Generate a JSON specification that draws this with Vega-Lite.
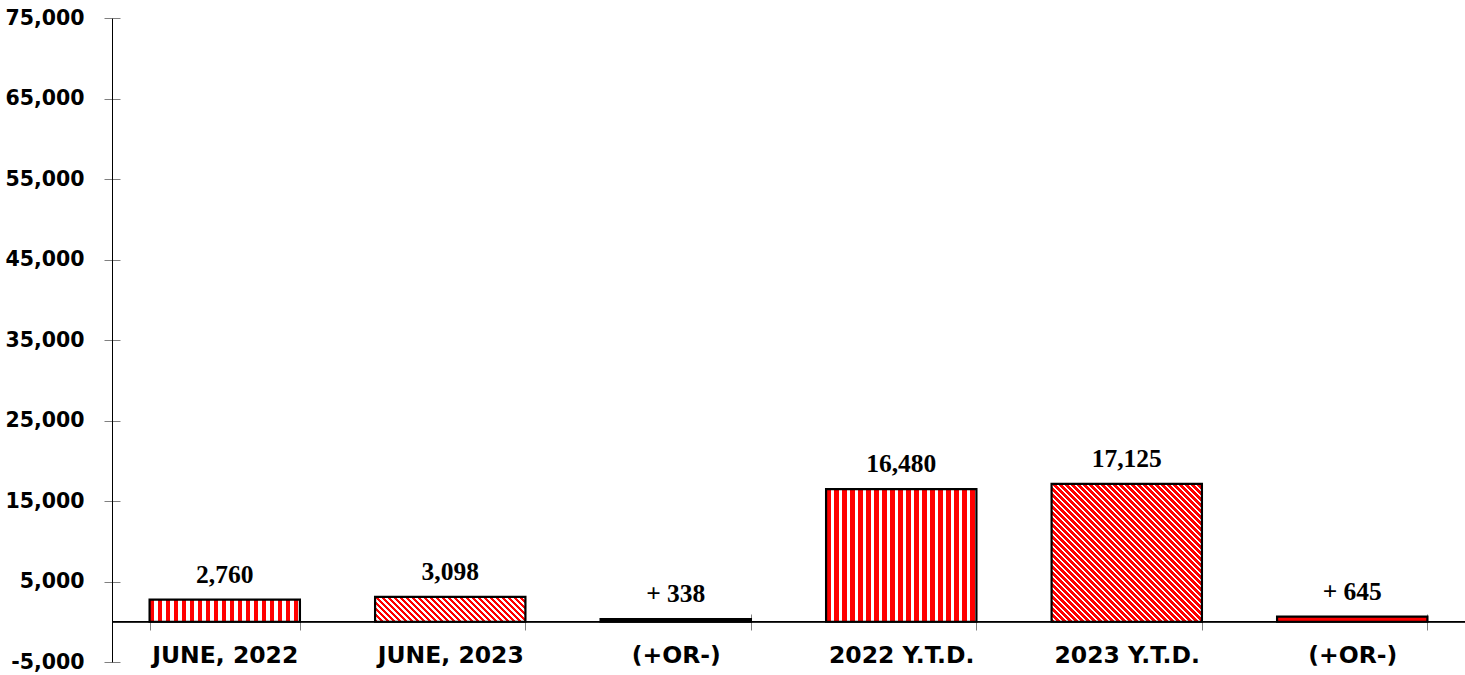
{
  "$schema": "https://vega.github.io/schema/vega-lite/v6.json",
  "width": 1353,
  "height": 644,
  "autosize": {"type": "none"},
  "padding": {"left": 112, "top": 18, "right": 0, "bottom": 13},
  "background": "white",
  "config": {"view": {"stroke": null}},
  "data": {
    "values": [
      {"cat": "JUNE, 2022", "value": 2760, "label": "2,760"},
      {"cat": "JUNE, 2023", "value": 3098, "label": "3,098"},
      {"cat": "(+OR-) MONTH", "value": 338, "label": "+ 338"},
      {"cat": "2022 Y.T.D.", "value": 16480, "label": "16,480"},
      {"cat": "2023 Y.T.D.", "value": 17125, "label": "17,125"},
      {"cat": "(+OR-) Y.T.D.", "value": 645, "label": "+ 645"}
    ]
  },
  "encoding": {
    "x": {
      "field": "cat", "type": "nominal", "sort": null,
      "scale": {"paddingInner": 0.3333, "paddingOuter": 0.16667},
      "axis": {
        "title": null, "domain": false, "offset": -48, "tickSize": 16, "tickBand": "extent",
        "tickColor": "#808080", "labelAngle": 0, "labelPadding": 13,
        "labelFont": "DejaVu Sans", "labelFontWeight": "bold", "labelFontSize": 23.5, "labelColor": "#000000", "labelLimit": 400,
        "labelExpr": "indexof(datum.label, '(+OR-)') === 0 ? '(+OR-)' : datum.label"
      }
    }
  },
  "layer": [
    {
      "mark": {"type": "rule", "color": "#000000", "strokeWidth": 1},
      "encoding": {"y": {"datum": 0, "type": "quantitative"}, "x": null}
    },
    {
      "mark": {"type": "bar", "stroke": "#000000", "strokeWidth": 2.2},
      "encoding": {
        "y": {
          "field": "value", "type": "quantitative",
          "scale": {"domain": [-5000, 75000], "nice": false, "zero": false},
          "axis": {
            "title": null, "values": [-5000, 5000, 15000, 25000, 35000, 45000, 55000, 65000, 75000],
            "domain": true, "domainColor": "#000000", "tickSize": 8, "tickColor": "#808080",
            "grid": true, "gridDash": [8, 3000], "gridColor": "#808080", "gridOpacity": 1,
            "labelPadding": 20, "labelFont": "DejaVu Sans", "labelFontWeight": "bold", "labelFontSize": 20.5, "labelColor": "#000000",
            "labelExpr": "datum.value < 0 ? '-' + format(-datum.value, ',') : format(datum.value, ',')"
          }
        },
        "fill": {
          "condition": [
            {"test": "datum.cat === 'JUNE, 2022' || datum.cat === '2022 Y.T.D.'", "value": {"gradient": "linear", "x1": 0, "y1": 0, "x2": 1, "y2": 0, "stops": [
              {"offset": 0, "color": "#f00"}, {"offset": 0.02993, "color": "#f00"}, {"offset": 0.02993, "color": "#fff"}, {"offset": 0.05322, "color": "#fff"},
              {"offset": 0.05322, "color": "#f00"}, {"offset": 0.08315, "color": "#f00"}, {"offset": 0.08315, "color": "#fff"}, {"offset": 0.10643, "color": "#fff"},
              {"offset": 0.10643, "color": "#f00"}, {"offset": 0.13637, "color": "#f00"}, {"offset": 0.13637, "color": "#fff"}, {"offset": 0.15965, "color": "#fff"},
              {"offset": 0.15965, "color": "#f00"}, {"offset": 0.18958, "color": "#f00"}, {"offset": 0.18958, "color": "#fff"}, {"offset": 0.21286, "color": "#fff"},
              {"offset": 0.21286, "color": "#f00"}, {"offset": 0.24280, "color": "#f00"}, {"offset": 0.24280, "color": "#fff"}, {"offset": 0.26608, "color": "#fff"},
              {"offset": 0.26608, "color": "#f00"}, {"offset": 0.29601, "color": "#f00"}, {"offset": 0.29601, "color": "#fff"}, {"offset": 0.31930, "color": "#fff"},
              {"offset": 0.31930, "color": "#f00"}, {"offset": 0.34923, "color": "#f00"}, {"offset": 0.34923, "color": "#fff"}, {"offset": 0.37251, "color": "#fff"},
              {"offset": 0.37251, "color": "#f00"}, {"offset": 0.40245, "color": "#f00"}, {"offset": 0.40245, "color": "#fff"}, {"offset": 0.42573, "color": "#fff"},
              {"offset": 0.42573, "color": "#f00"}, {"offset": 0.45566, "color": "#f00"}, {"offset": 0.45566, "color": "#fff"}, {"offset": 0.47894, "color": "#fff"},
              {"offset": 0.47894, "color": "#f00"}, {"offset": 0.50888, "color": "#f00"}, {"offset": 0.50888, "color": "#fff"}, {"offset": 0.53216, "color": "#fff"},
              {"offset": 0.53216, "color": "#f00"}, {"offset": 0.56209, "color": "#f00"}, {"offset": 0.56209, "color": "#fff"}, {"offset": 0.58538, "color": "#fff"},
              {"offset": 0.58538, "color": "#f00"}, {"offset": 0.61531, "color": "#f00"}, {"offset": 0.61531, "color": "#fff"}, {"offset": 0.63859, "color": "#fff"},
              {"offset": 0.63859, "color": "#f00"}, {"offset": 0.66853, "color": "#f00"}, {"offset": 0.66853, "color": "#fff"}, {"offset": 0.69181, "color": "#fff"},
              {"offset": 0.69181, "color": "#f00"}, {"offset": 0.72174, "color": "#f00"}, {"offset": 0.72174, "color": "#fff"}, {"offset": 0.74502, "color": "#fff"},
              {"offset": 0.74502, "color": "#f00"}, {"offset": 0.77496, "color": "#f00"}, {"offset": 0.77496, "color": "#fff"}, {"offset": 0.79824, "color": "#fff"},
              {"offset": 0.79824, "color": "#f00"}, {"offset": 0.82817, "color": "#f00"}, {"offset": 0.82817, "color": "#fff"}, {"offset": 0.85146, "color": "#fff"},
              {"offset": 0.85146, "color": "#f00"}, {"offset": 0.88139, "color": "#f00"}, {"offset": 0.88139, "color": "#fff"}, {"offset": 0.90467, "color": "#fff"},
              {"offset": 0.90467, "color": "#f00"}, {"offset": 0.93461, "color": "#f00"}, {"offset": 0.93461, "color": "#fff"}, {"offset": 0.95789, "color": "#fff"},
              {"offset": 0.95789, "color": "#f00"}, {"offset": 0.98782, "color": "#f00"}, {"offset": 0.98782, "color": "#fff"}, {"offset": 1, "color": "#fff"}
            ]}},
            {"test": "datum.cat === 'JUNE, 2023'", "value": {"gradient": "linear", "x1": 0, "y1": 1, "x2": 1.13467, "y2": 0.81176, "stops": [
              {"offset": 0, "color": "#f00"}, {"offset": 0.02054, "color": "#f00"}, {"offset": 0.02054, "color": "#fff"}, {"offset": 0.03423, "color": "#fff"},
              {"offset": 0.03423, "color": "#f00"}, {"offset": 0.05477, "color": "#f00"}, {"offset": 0.05477, "color": "#fff"}, {"offset": 0.06847, "color": "#fff"},
              {"offset": 0.06847, "color": "#f00"}, {"offset": 0.08901, "color": "#f00"}, {"offset": 0.08901, "color": "#fff"}, {"offset": 0.10270, "color": "#fff"},
              {"offset": 0.10270, "color": "#f00"}, {"offset": 0.12324, "color": "#f00"}, {"offset": 0.12324, "color": "#fff"}, {"offset": 0.13693, "color": "#fff"},
              {"offset": 0.13693, "color": "#f00"}, {"offset": 0.15747, "color": "#f00"}, {"offset": 0.15747, "color": "#fff"}, {"offset": 0.17116, "color": "#fff"},
              {"offset": 0.17116, "color": "#f00"}, {"offset": 0.19170, "color": "#f00"}, {"offset": 0.19170, "color": "#fff"}, {"offset": 0.20540, "color": "#fff"},
              {"offset": 0.20540, "color": "#f00"}, {"offset": 0.22594, "color": "#f00"}, {"offset": 0.22594, "color": "#fff"}, {"offset": 0.23963, "color": "#fff"},
              {"offset": 0.23963, "color": "#f00"}, {"offset": 0.26017, "color": "#f00"}, {"offset": 0.26017, "color": "#fff"}, {"offset": 0.27386, "color": "#fff"},
              {"offset": 0.27386, "color": "#f00"}, {"offset": 0.29440, "color": "#f00"}, {"offset": 0.29440, "color": "#fff"}, {"offset": 0.30810, "color": "#fff"},
              {"offset": 0.30810, "color": "#f00"}, {"offset": 0.32864, "color": "#f00"}, {"offset": 0.32864, "color": "#fff"}, {"offset": 0.34233, "color": "#fff"},
              {"offset": 0.34233, "color": "#f00"}, {"offset": 0.36287, "color": "#f00"}, {"offset": 0.36287, "color": "#fff"}, {"offset": 0.37656, "color": "#fff"},
              {"offset": 0.37656, "color": "#f00"}, {"offset": 0.39710, "color": "#f00"}, {"offset": 0.39710, "color": "#fff"}, {"offset": 0.41079, "color": "#fff"},
              {"offset": 0.41079, "color": "#f00"}, {"offset": 0.43133, "color": "#f00"}, {"offset": 0.43133, "color": "#fff"}, {"offset": 0.44503, "color": "#fff"},
              {"offset": 0.44503, "color": "#f00"}, {"offset": 0.46557, "color": "#f00"}, {"offset": 0.46557, "color": "#fff"}, {"offset": 0.47926, "color": "#fff"},
              {"offset": 0.47926, "color": "#f00"}, {"offset": 0.49980, "color": "#f00"}, {"offset": 0.49980, "color": "#fff"}, {"offset": 0.51349, "color": "#fff"},
              {"offset": 0.51349, "color": "#f00"}, {"offset": 0.53403, "color": "#f00"}, {"offset": 0.53403, "color": "#fff"}, {"offset": 0.54773, "color": "#fff"},
              {"offset": 0.54773, "color": "#f00"}, {"offset": 0.56827, "color": "#f00"}, {"offset": 0.56827, "color": "#fff"}, {"offset": 0.58196, "color": "#fff"},
              {"offset": 0.58196, "color": "#f00"}, {"offset": 0.60250, "color": "#f00"}, {"offset": 0.60250, "color": "#fff"}, {"offset": 0.61619, "color": "#fff"},
              {"offset": 0.61619, "color": "#f00"}, {"offset": 0.63673, "color": "#f00"}, {"offset": 0.63673, "color": "#fff"}, {"offset": 0.65043, "color": "#fff"},
              {"offset": 0.65043, "color": "#f00"}, {"offset": 0.67097, "color": "#f00"}, {"offset": 0.67097, "color": "#fff"}, {"offset": 0.68466, "color": "#fff"},
              {"offset": 0.68466, "color": "#f00"}, {"offset": 0.70520, "color": "#f00"}, {"offset": 0.70520, "color": "#fff"}, {"offset": 0.71889, "color": "#fff"},
              {"offset": 0.71889, "color": "#f00"}, {"offset": 0.73943, "color": "#f00"}, {"offset": 0.73943, "color": "#fff"}, {"offset": 0.75312, "color": "#fff"},
              {"offset": 0.75312, "color": "#f00"}, {"offset": 0.77366, "color": "#f00"}, {"offset": 0.77366, "color": "#fff"}, {"offset": 0.78736, "color": "#fff"},
              {"offset": 0.78736, "color": "#f00"}, {"offset": 0.80790, "color": "#f00"}, {"offset": 0.80790, "color": "#fff"}, {"offset": 0.82159, "color": "#fff"},
              {"offset": 0.82159, "color": "#f00"}, {"offset": 0.84213, "color": "#f00"}, {"offset": 0.84213, "color": "#fff"}, {"offset": 0.85582, "color": "#fff"},
              {"offset": 0.85582, "color": "#f00"}, {"offset": 0.87636, "color": "#f00"}, {"offset": 0.87636, "color": "#fff"}, {"offset": 0.89006, "color": "#fff"},
              {"offset": 0.89006, "color": "#f00"}, {"offset": 0.91060, "color": "#f00"}, {"offset": 0.91060, "color": "#fff"}, {"offset": 0.92429, "color": "#fff"},
              {"offset": 0.92429, "color": "#f00"}, {"offset": 0.94483, "color": "#f00"}, {"offset": 0.94483, "color": "#fff"}, {"offset": 0.95852, "color": "#fff"},
              {"offset": 0.95852, "color": "#f00"}, {"offset": 0.97906, "color": "#f00"}, {"offset": 0.97906, "color": "#fff"}, {"offset": 0.99275, "color": "#fff"},
              {"offset": 0.99275, "color": "#f00"}, {"offset": 1, "color": "#f00"}
            ]}},
            {"test": "datum.cat === '2023 Y.T.D.'", "value": {"gradient": "linear", "x1": 0, "y1": 1, "x2": 1.04133, "y2": 0.04507, "stops": [
              {"offset": 0, "color": "#f00"}, {"offset": 0.01249, "color": "#f00"}, {"offset": 0.01249, "color": "#fff"}, {"offset": 0.02082, "color": "#fff"},
              {"offset": 0.02082, "color": "#f00"}, {"offset": 0.03331, "color": "#f00"}, {"offset": 0.03331, "color": "#fff"}, {"offset": 0.04164, "color": "#fff"},
              {"offset": 0.04164, "color": "#f00"}, {"offset": 0.05413, "color": "#f00"}, {"offset": 0.05413, "color": "#fff"}, {"offset": 0.06246, "color": "#fff"},
              {"offset": 0.06246, "color": "#f00"}, {"offset": 0.07495, "color": "#f00"}, {"offset": 0.07495, "color": "#fff"}, {"offset": 0.08328, "color": "#fff"},
              {"offset": 0.08328, "color": "#f00"}, {"offset": 0.09577, "color": "#f00"}, {"offset": 0.09577, "color": "#fff"}, {"offset": 0.10410, "color": "#fff"},
              {"offset": 0.10410, "color": "#f00"}, {"offset": 0.11659, "color": "#f00"}, {"offset": 0.11659, "color": "#fff"}, {"offset": 0.12492, "color": "#fff"},
              {"offset": 0.12492, "color": "#f00"}, {"offset": 0.13741, "color": "#f00"}, {"offset": 0.13741, "color": "#fff"}, {"offset": 0.14574, "color": "#fff"},
              {"offset": 0.14574, "color": "#f00"}, {"offset": 0.15823, "color": "#f00"}, {"offset": 0.15823, "color": "#fff"}, {"offset": 0.16656, "color": "#fff"},
              {"offset": 0.16656, "color": "#f00"}, {"offset": 0.17905, "color": "#f00"}, {"offset": 0.17905, "color": "#fff"}, {"offset": 0.18738, "color": "#fff"},
              {"offset": 0.18738, "color": "#f00"}, {"offset": 0.19987, "color": "#f00"}, {"offset": 0.19987, "color": "#fff"}, {"offset": 0.20820, "color": "#fff"},
              {"offset": 0.20820, "color": "#f00"}, {"offset": 0.22069, "color": "#f00"}, {"offset": 0.22069, "color": "#fff"}, {"offset": 0.22902, "color": "#fff"},
              {"offset": 0.22902, "color": "#f00"}, {"offset": 0.24151, "color": "#f00"}, {"offset": 0.24151, "color": "#fff"}, {"offset": 0.24984, "color": "#fff"},
              {"offset": 0.24984, "color": "#f00"}, {"offset": 0.26233, "color": "#f00"}, {"offset": 0.26233, "color": "#fff"}, {"offset": 0.27065, "color": "#fff"},
              {"offset": 0.27065, "color": "#f00"}, {"offset": 0.28314, "color": "#f00"}, {"offset": 0.28314, "color": "#fff"}, {"offset": 0.29147, "color": "#fff"},
              {"offset": 0.29147, "color": "#f00"}, {"offset": 0.30396, "color": "#f00"}, {"offset": 0.30396, "color": "#fff"}, {"offset": 0.31229, "color": "#fff"},
              {"offset": 0.31229, "color": "#f00"}, {"offset": 0.32478, "color": "#f00"}, {"offset": 0.32478, "color": "#fff"}, {"offset": 0.33311, "color": "#fff"},
              {"offset": 0.33311, "color": "#f00"}, {"offset": 0.34560, "color": "#f00"}, {"offset": 0.34560, "color": "#fff"}, {"offset": 0.35393, "color": "#fff"},
              {"offset": 0.35393, "color": "#f00"}, {"offset": 0.36642, "color": "#f00"}, {"offset": 0.36642, "color": "#fff"}, {"offset": 0.37475, "color": "#fff"},
              {"offset": 0.37475, "color": "#f00"}, {"offset": 0.38724, "color": "#f00"}, {"offset": 0.38724, "color": "#fff"}, {"offset": 0.39557, "color": "#fff"},
              {"offset": 0.39557, "color": "#f00"}, {"offset": 0.40806, "color": "#f00"}, {"offset": 0.40806, "color": "#fff"}, {"offset": 0.41639, "color": "#fff"},
              {"offset": 0.41639, "color": "#f00"}, {"offset": 0.42888, "color": "#f00"}, {"offset": 0.42888, "color": "#fff"}, {"offset": 0.43721, "color": "#fff"},
              {"offset": 0.43721, "color": "#f00"}, {"offset": 0.44970, "color": "#f00"}, {"offset": 0.44970, "color": "#fff"}, {"offset": 0.45803, "color": "#fff"},
              {"offset": 0.45803, "color": "#f00"}, {"offset": 0.47052, "color": "#f00"}, {"offset": 0.47052, "color": "#fff"}, {"offset": 0.47885, "color": "#fff"},
              {"offset": 0.47885, "color": "#f00"}, {"offset": 0.49134, "color": "#f00"}, {"offset": 0.49134, "color": "#fff"}, {"offset": 0.49967, "color": "#fff"},
              {"offset": 0.49967, "color": "#f00"}, {"offset": 0.51216, "color": "#f00"}, {"offset": 0.51216, "color": "#fff"}, {"offset": 0.52049, "color": "#fff"},
              {"offset": 0.52049, "color": "#f00"}, {"offset": 0.53298, "color": "#f00"}, {"offset": 0.53298, "color": "#fff"}, {"offset": 0.54131, "color": "#fff"},
              {"offset": 0.54131, "color": "#f00"}, {"offset": 0.55380, "color": "#f00"}, {"offset": 0.55380, "color": "#fff"}, {"offset": 0.56213, "color": "#fff"},
              {"offset": 0.56213, "color": "#f00"}, {"offset": 0.57462, "color": "#f00"}, {"offset": 0.57462, "color": "#fff"}, {"offset": 0.58295, "color": "#fff"},
              {"offset": 0.58295, "color": "#f00"}, {"offset": 0.59544, "color": "#f00"}, {"offset": 0.59544, "color": "#fff"}, {"offset": 0.60377, "color": "#fff"},
              {"offset": 0.60377, "color": "#f00"}, {"offset": 0.61626, "color": "#f00"}, {"offset": 0.61626, "color": "#fff"}, {"offset": 0.62459, "color": "#fff"},
              {"offset": 0.62459, "color": "#f00"}, {"offset": 0.63708, "color": "#f00"}, {"offset": 0.63708, "color": "#fff"}, {"offset": 0.64541, "color": "#fff"},
              {"offset": 0.64541, "color": "#f00"}, {"offset": 0.65790, "color": "#f00"}, {"offset": 0.65790, "color": "#fff"}, {"offset": 0.66623, "color": "#fff"},
              {"offset": 0.66623, "color": "#f00"}, {"offset": 0.67872, "color": "#f00"}, {"offset": 0.67872, "color": "#fff"}, {"offset": 0.68705, "color": "#fff"},
              {"offset": 0.68705, "color": "#f00"}, {"offset": 0.69954, "color": "#f00"}, {"offset": 0.69954, "color": "#fff"}, {"offset": 0.70787, "color": "#fff"},
              {"offset": 0.70787, "color": "#f00"}, {"offset": 0.72036, "color": "#f00"}, {"offset": 0.72036, "color": "#fff"}, {"offset": 0.72869, "color": "#fff"},
              {"offset": 0.72869, "color": "#f00"}, {"offset": 0.74118, "color": "#f00"}, {"offset": 0.74118, "color": "#fff"}, {"offset": 0.74951, "color": "#fff"},
              {"offset": 0.74951, "color": "#f00"}, {"offset": 0.76200, "color": "#f00"}, {"offset": 0.76200, "color": "#fff"}, {"offset": 0.77033, "color": "#fff"},
              {"offset": 0.77033, "color": "#f00"}, {"offset": 0.78282, "color": "#f00"}, {"offset": 0.78282, "color": "#fff"}, {"offset": 0.79114, "color": "#fff"},
              {"offset": 0.79114, "color": "#f00"}, {"offset": 0.80363, "color": "#f00"}, {"offset": 0.80363, "color": "#fff"}, {"offset": 0.81196, "color": "#fff"},
              {"offset": 0.81196, "color": "#f00"}, {"offset": 0.82445, "color": "#f00"}, {"offset": 0.82445, "color": "#fff"}, {"offset": 0.83278, "color": "#fff"},
              {"offset": 0.83278, "color": "#f00"}, {"offset": 0.84527, "color": "#f00"}, {"offset": 0.84527, "color": "#fff"}, {"offset": 0.85360, "color": "#fff"},
              {"offset": 0.85360, "color": "#f00"}, {"offset": 0.86609, "color": "#f00"}, {"offset": 0.86609, "color": "#fff"}, {"offset": 0.87442, "color": "#fff"},
              {"offset": 0.87442, "color": "#f00"}, {"offset": 0.88691, "color": "#f00"}, {"offset": 0.88691, "color": "#fff"}, {"offset": 0.89524, "color": "#fff"},
              {"offset": 0.89524, "color": "#f00"}, {"offset": 0.90773, "color": "#f00"}, {"offset": 0.90773, "color": "#fff"}, {"offset": 0.91606, "color": "#fff"},
              {"offset": 0.91606, "color": "#f00"}, {"offset": 0.92855, "color": "#f00"}, {"offset": 0.92855, "color": "#fff"}, {"offset": 0.93688, "color": "#fff"},
              {"offset": 0.93688, "color": "#f00"}, {"offset": 0.94937, "color": "#f00"}, {"offset": 0.94937, "color": "#fff"}, {"offset": 0.95770, "color": "#fff"},
              {"offset": 0.95770, "color": "#f00"}, {"offset": 0.97019, "color": "#f00"}, {"offset": 0.97019, "color": "#fff"}, {"offset": 0.97852, "color": "#fff"},
              {"offset": 0.97852, "color": "#f00"}, {"offset": 0.99101, "color": "#f00"}, {"offset": 0.99101, "color": "#fff"}, {"offset": 0.99934, "color": "#fff"},
              {"offset": 0.99934, "color": "#f00"}, {"offset": 1, "color": "#f00"}
            ]}},
            {"test": "datum.cat === '(+OR-) MONTH'", "value": "#000000"}
          ],
          "value": "#ff0000"
        }
      }
    },
    {
      "mark": {"type": "text", "baseline": "alphabetic", "align": "center", "dy": -17, "font": "Liberation Serif", "fontWeight": "bold", "fontSize": 25.5, "color": "#000000"},
      "encoding": {
        "y": {"field": "value", "type": "quantitative"},
        "text": {"field": "label", "type": "nominal"}
      }
    }
  ]
}
